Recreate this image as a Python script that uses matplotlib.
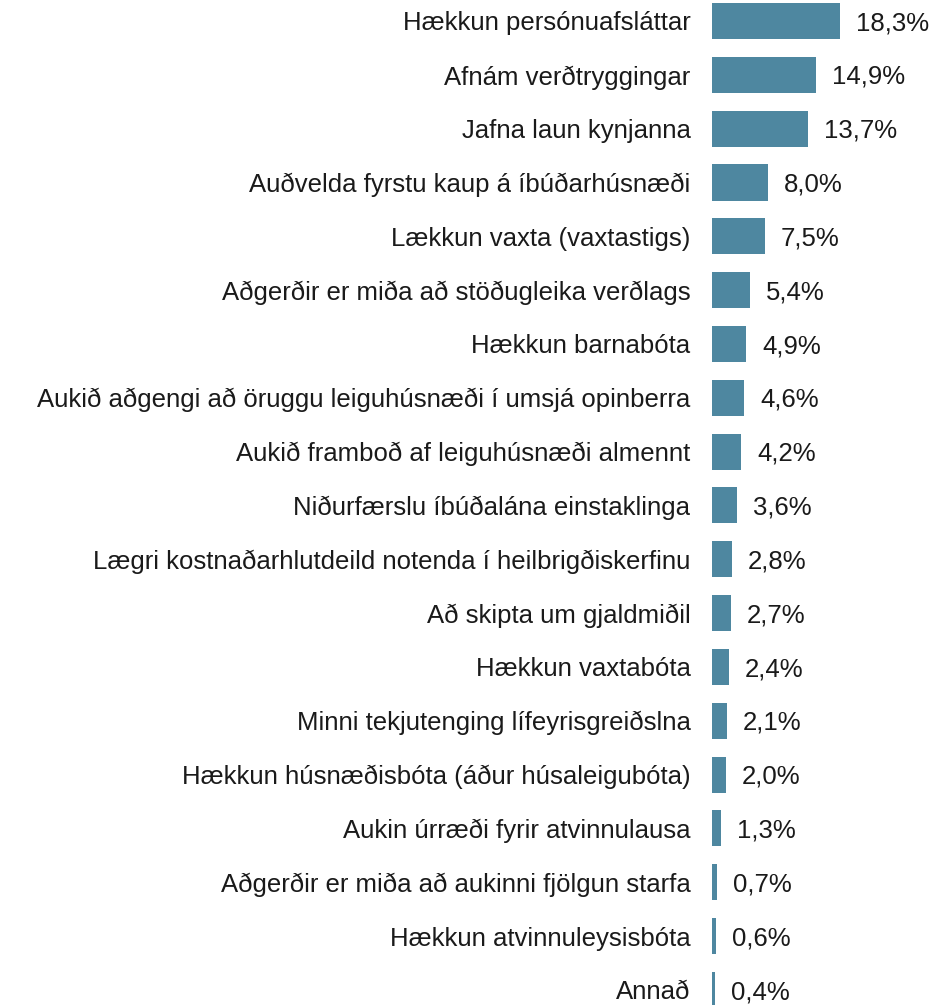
import matplotlib.pyplot as plt

# Gögn
categories = [
    "Hækkun persónuafsláttar",
    "Afnám verðtryggingar",
    "Jafna laun kynjanna",
    "Auðvelda fyrstu kaup á íbúðarhúsnæði",
    "Lækkun vaxta (vaxtastigs)",
    "Aðgerðir er miða að stöðugleika verðlags",
    "Hækkun barnabóta",
    "Aukið aðgengi að öruggu leiguhúsnæði í umsjá opinberra",
    "Aukið framboð af leiguhúsnæði almennt",
    "Niðurfærslu íbúðalána einstaklinga",
    "Lægri kostnaðarhlutdeild notenda í heilbrigðiskerfinu",
    "Að skipta um gjaldmiðil",
    "Hækkun vaxtabóta",
    "Minni tekjutenging lífeyrisgreiðslna",
    "Hækkun húsnæðisbóta (áður húsaleigubóta)",
    "Aukin úrræði fyrir atvinnulausa",
    "Aðgerðir er miða að aukinni fjölgun starfa",
    "Hækkun atvinnuleysisbóta",
    "Annað",
]
values = [18.3, 14.9, 13.7, 8.0, 7.5, 5.4, 4.9, 4.6, 4.2, 3.6,
          2.8, 2.7, 2.4, 2.1, 2.0, 1.3, 0.7, 0.6, 0.4]

BAR_COLOR = "#4E87A0"
TEXT_COLOR = "#1A1A1A"
FS = 18.5

plt.rcParams["font.family"] = ["Liberation Sans", "DejaVu Sans"]

fig = plt.figure(figsize=(9.35, 10.05), dpi=100)
ax = fig.add_axes([712 / 935, 0, 1 - 712 / 935, 1])

y = list(range(len(categories)))
ax.barh(y, values, height=0.67, color=BAR_COLOR)

for yi, v in zip(y, values):
    ax.text(v + 2.3, yi + 0.04, f"{v:.1f}".replace(".", ",") + "%",
            va="center", ha="left", fontsize=FS, color=TEXT_COLOR)

ax.set_yticks(y)
ax.set_yticklabels(categories, fontsize=FS, color=TEXT_COLOR)
ax.tick_params(axis="y", length=0, pad=15.5)
ax.set_xticks([])
ax.set_xlim(0, 223 / 7.0)
ax.set_ylim(18.28, -0.39)
for s in ax.spines.values():
    s.set_visible(False)

fig.savefig("out.png", dpi=100, facecolor="white")
